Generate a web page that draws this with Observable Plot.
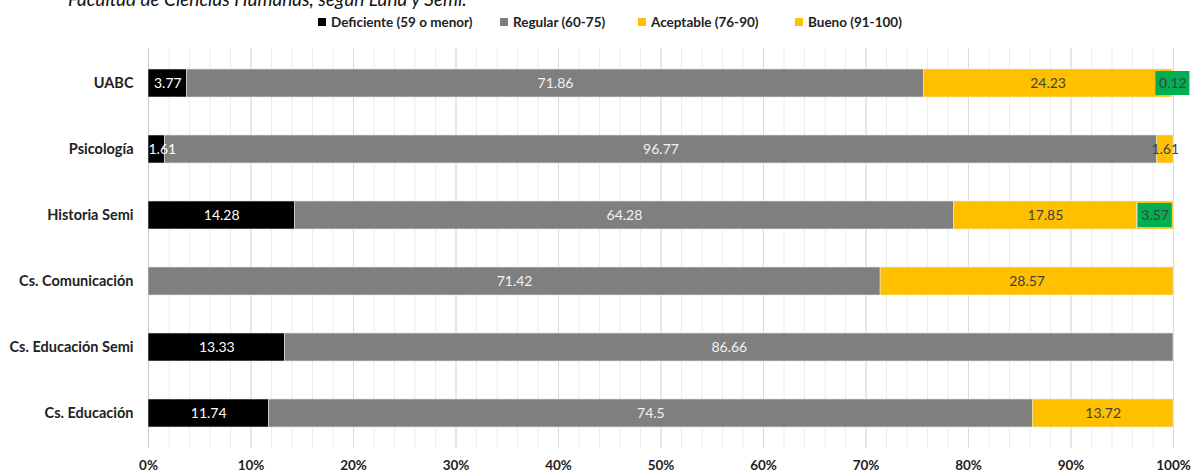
<!DOCTYPE html>
<html>
<head>
<meta charset="utf-8">
<script src="https://cdn.jsdelivr.net/npm/d3@7"></script>
<script src="https://cdn.jsdelivr.net/npm/@observablehq/plot@0.6"></script>
<style>
  html, body { margin: 0; padding: 0; background: #fff; overflow: hidden; }
  body { width: 1193px; height: 473px; font-family: Lato, "Open Sans", sans-serif; }
  #title { font-style: italic; font-size: 19px; line-height: 20px; margin-top: -11px; padding-left: 68px; color: #111; white-space: nowrap; height: 20px; }
  #legend { display: flex; justify-content: flex-start; padding-left: 318px; font-size: 13.5px; font-weight: bold; color: #222; height: 22px; align-items: center; padding-top: 3px; box-sizing: border-box; }
  #legend span.item { display: inline-flex; align-items: center; gap: 5px; }
  #legend span.item:nth-child(1) { width: 182px; }
  #legend span.item:nth-child(2) { width: 138px; }
  #legend span.item:nth-child(3) { width: 157px; }
  #legend i { display: inline-block; width: 8px; height: 8px; flex: none; }
  svg { display: block; }
</style>
</head>
<body>
<div id="title">Facultad de Ciencias Humanas, según Luna y Semi.</div>
<div id="legend"></div>
<div id="chart"></div>
<script>
// Programas (orden de arriba hacia abajo)
const categories = ["UABC", "Psicología", "Historia Semi", "Cs. Comunicación", "Cs. Educación Semi", "Cs. Educación"];
// Niveles de desempeño
const levels = ["Deficiente (59 o menor)", "Regular (60-75)", "Aceptable (76-90)", "Bueno (91-100)"];
// Porcentaje de estudiantes por nivel
const deficiente = [3.77, 1.61, 14.28, 0, 13.33, 11.74];
const regular = [71.86, 96.77, 64.28, 71.42, 86.66, 74.5];
const aceptable = [24.23, 1.61, 17.85, 28.57, 0, 13.72];
const bueno = [0.12, 0, 3.57, 0, 0, 0];
// Ejes
const xTicks = [0, 0.1, 0.2, 0.3, 0.4, 0.5, 0.6, 0.7, 0.8, 0.9, 1];
const minorTicks = d3.range(0, 51).map(i => i / 50);

const barColors = ["#000000", "#7f7f7f", "#ffc000", "#ffc000"];
const textColors = ["#ffffff", "#f2f2f2", "#404040", "#404040"];

const series = [deficiente, regular, aceptable, bueno];
const rows = [];
categories.forEach((cat, i) => {
  const total = d3.sum(series, s => s[i]);
  let cum = 0;
  series.forEach((s, j) => {
    const v = s[i];
    if (v > 0) rows.push({cat, level: levels[j], li: j, value: v, start: cum / total, mid: (cum + v / 2) / total});
    cum += v;
  });
});
const buenoRows = rows.filter(d => d.li === 3);
const boxHalf = 0.0166; // half width of the label box, in share of the bar

// Labels of very thin first segments are kept inside the plot, aligned to the axis
const tooThin = d => d.li === 0 && d.mid < 0.012;
const centeredLabels = rows.filter(d => !tooThin(d));
const edgeLabels = rows.filter(tooThin);

// Leyenda
const legend = document.getElementById("legend");
levels.forEach((l, j) => {
  const s = document.createElement("span");
  s.className = "item";
  s.innerHTML = `<i style="background:${barColors[j]}"></i>${l}`;
  legend.appendChild(s);
});

const chart = Plot.plot({
  width: 1193,
  height: 442,
  marginTop: 17,
  marginBottom: 25,
  marginLeft: 148,
  marginRight: 20,
  style: {fontFamily: "Lato, 'Open Sans', sans-serif", fontSize: "13px", color: "#222"},
  x: {domain: [0, 1], axis: null},
  y: {domain: categories, paddingInner: 0.58, paddingOuter: 0.29, axis: null},
  color: {domain: levels, range: barColors},
  marks: [
    Plot.ruleX(minorTicks, {stroke: "#ececec", strokeWidth: 1}),
    Plot.ruleX(xTicks, {stroke: "#d9d9d9", strokeWidth: 1}),
    Plot.ruleX([0], {stroke: "#c8c8c8", strokeWidth: 1}),
    Plot.barX(rows, Plot.stackX({x: "value", y: "cat", fill: "level", z: "level", offset: "normalize", stroke: "#e6e6e6", strokeWidth: 0.6})),
    Plot.rect(buenoRows, {x1: d => d.mid - boxHalf, x2: d => d.mid + boxHalf, y: "cat", fill: "#00b050", insetTop: 2, insetBottom: 2}),
    Plot.text(centeredLabels, {x: "mid", y: "cat", text: d => String(d.value), fill: d => textColors[d.li], fontSize: 14}),
    Plot.text(edgeLabels, {x: "start", y: "cat", text: d => String(d.value), fill: d => textColors[d.li], fontSize: 14, textAnchor: "start"}),
    Plot.axisX({ticks: xTicks, tickFormat: d3.format(".0%"), tickSize: 0, tickPadding: 12, fontWeight: "bold", fontSize: 13.5, label: null}),
    Plot.axisY({tickSize: 0, tickPadding: 15, fontWeight: "bold", fontSize: 14.5, label: null})
  ]
});
document.getElementById("chart").appendChild(chart);
</script>
</body>
</html>
